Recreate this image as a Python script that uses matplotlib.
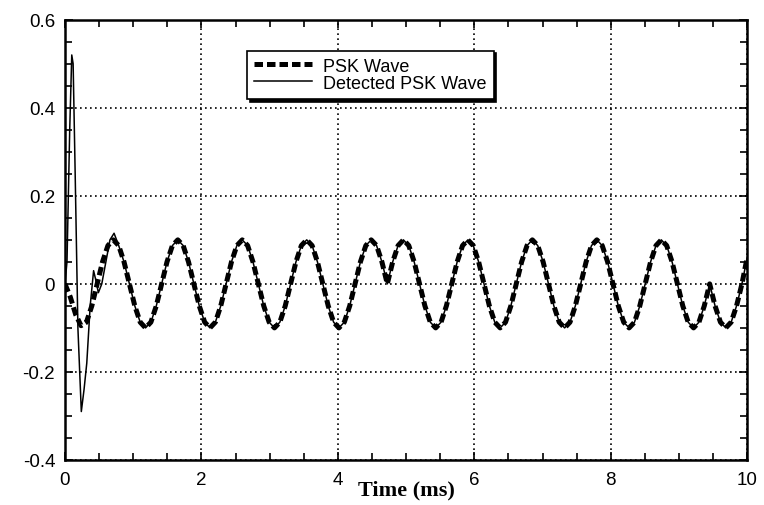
import matplotlib
matplotlib.use("Agg")
import matplotlib.pyplot as plt
from matplotlib.ticker import MultipleLocator

plt.rcParams['font.family'] = ['Liberation Sans', 'DejaVu Sans']
plt.rcParams['axes.unicode_minus'] = False

# PSK wave samples (time in ms, amplitude)
psk_t = [0.000, 0.079, 0.158, 0.236, 0.315, 0.394, 0.473, 0.551, 0.630, 0.709, 0.788, 0.866,
         0.945, 1.024, 1.103, 1.181, 1.260, 1.339, 1.418, 1.496, 1.575, 1.654, 1.733, 1.811,
         1.890, 1.969, 2.048, 2.126, 2.205, 2.284, 2.363, 2.441, 2.520, 2.599, 2.678, 2.756,
         2.835, 2.914, 2.993, 3.071, 3.150, 3.229, 3.308, 3.386, 3.465, 3.544, 3.623, 3.701,
         3.780, 3.859, 3.938, 4.016, 4.095, 4.174, 4.253, 4.331, 4.410, 4.489, 4.568, 4.646,
         4.725, 4.804, 4.883, 4.961, 5.040, 5.119, 5.198, 5.276, 5.355, 5.434, 5.513, 5.591,
         5.670, 5.749, 5.828, 5.906, 5.985, 6.064, 6.143, 6.221, 6.300, 6.379, 6.458, 6.536,
         6.615, 6.694, 6.773, 6.851, 6.930, 7.009, 7.088, 7.166, 7.245, 7.324, 7.403, 7.481,
         7.560, 7.639, 7.718, 7.796, 7.875, 7.954, 8.033, 8.111, 8.190, 8.269, 8.348, 8.426,
         8.505, 8.584, 8.663, 8.741, 8.820, 8.899, 8.978, 9.056, 9.135, 9.214, 9.293, 9.371,
         9.450, 9.529, 9.608, 9.686, 9.765, 9.844, 9.923, 10.000]
psk_v = [0.0, -0.03, -0.07, -0.095, -0.087, -0.05, 0.0, 0.05, 0.087, 0.1, 0.087, 0.05,
         0.0, -0.05, -0.087, -0.1, -0.087, -0.05, 0.0, 0.05, 0.087, 0.1, 0.087, 0.05,
         0.0, -0.05, -0.087, -0.1, -0.087, -0.05, 0.0, 0.05, 0.087, 0.1, 0.087, 0.05,
         0.0, -0.05, -0.087, -0.1, -0.087, -0.05, 0.0, 0.05, 0.087, 0.1, 0.087, 0.05,
         0.0, -0.05, -0.087, -0.1, -0.087, -0.05, 0.0, 0.05, 0.087, 0.1, 0.087, 0.05,
         0.0, 0.05, 0.087, 0.1, 0.087, 0.05, 0.0, -0.05, -0.087, -0.1, -0.087, -0.05,
         0.0, 0.05, 0.087, 0.1, 0.087, 0.05, 0.0, -0.05, -0.087, -0.1, -0.087, -0.05,
         0.0, 0.05, 0.087, 0.1, 0.087, 0.05, 0.0, -0.05, -0.087, -0.1, -0.087, -0.05,
         0.0, 0.05, 0.087, 0.1, 0.087, 0.05, 0.0, -0.05, -0.087, -0.1, -0.087, -0.05,
         0.0, 0.05, 0.087, 0.1, 0.087, 0.05, 0.0, -0.05, -0.087, -0.1, -0.087, -0.05,
         0.0, -0.05, -0.087, -0.1, -0.087, -0.05, 0.0, 0.06]

# detected wave: start-up transient, afterwards it follows the PSK wave
det_start_t = [0.0, 0.03, 0.07, 0.10, 0.12, 0.15, 0.19, 0.24, 0.28, 0.32, 0.37,
               0.42, 0.45, 0.49, 0.54, 0.60, 0.66, 0.72]
det_start_v = [0.0, 0.05, 0.35, 0.52, 0.50, 0.25, -0.10, -0.29, -0.24, -0.18, -0.05,
               0.03, 0.01, -0.02, 0.0, 0.05, 0.10, 0.115]

x_ticks = [0, 2, 4, 6, 8, 10]
y_ticks = [-0.4, -0.2, 0.0, 0.2, 0.4, 0.6]
y_tick_labels = ['-0.4', '-0.2', '0', '0.2', '0.4', '0.6']

det_t = det_start_t + [t for t in psk_t if t > det_start_t[-1]]
det_v = det_start_v + [v for t, v in zip(psk_t, psk_v) if t > det_start_t[-1]]

fig = plt.figure(figsize=(7.64, 5.06), dpi=100)
ax = fig.add_axes([0.085, 0.089, 0.893, 0.87])

ax.plot(psk_t, psk_v, color='black', lw=3.6, linestyle=(0, (1.7, 0.8)),
        label='PSK Wave', zorder=3)
ax.plot(det_t, det_v, color='black', lw=1.1, label='Detected PSK Wave', zorder=4)

ax.set_xlim(0, 10)
ax.set_ylim(-0.4, 0.6)
ax.set_xticks(x_ticks)
ax.set_yticks(y_ticks)
ax.set_yticklabels(y_tick_labels)
ax.xaxis.set_minor_locator(MultipleLocator(0.5))
ax.yaxis.set_minor_locator(MultipleLocator(0.05))
ax.tick_params(which='both', direction='in', top=True, right=True, width=1.2)
ax.tick_params(which='major', length=6, labelsize=13.5)
ax.tick_params(axis='x', which='major', pad=8)
ax.tick_params(axis='y', which='major', pad=7)
ax.tick_params(which='minor', length=5)
for s in ax.spines.values():
    s.set_linewidth(1.8)

ax.grid(True, which='major', color='black', linestyle=(0, (1, 2)), lw=1.2)

ax.set_xlabel('Time (ms)', family=['Liberation Serif'], fontweight='bold', fontsize=16)
ax.xaxis.set_label_coords(0.5, -0.045)

leg = ax.legend(loc='upper left', bbox_to_anchor=(0.267, 0.93), fontsize=13,
                frameon=True, fancybox=False, shadow={'color': 'black', 'alpha': 1},
                borderpad=0.4, handlelength=3.2, labelspacing=0.0, handletextpad=0.6,
                borderaxespad=0)
leg.get_frame().set_edgecolor('black')
leg.get_frame().set_linewidth(1.2)
leg.set_zorder(10)

fig.savefig('out.png', dpi=100)
